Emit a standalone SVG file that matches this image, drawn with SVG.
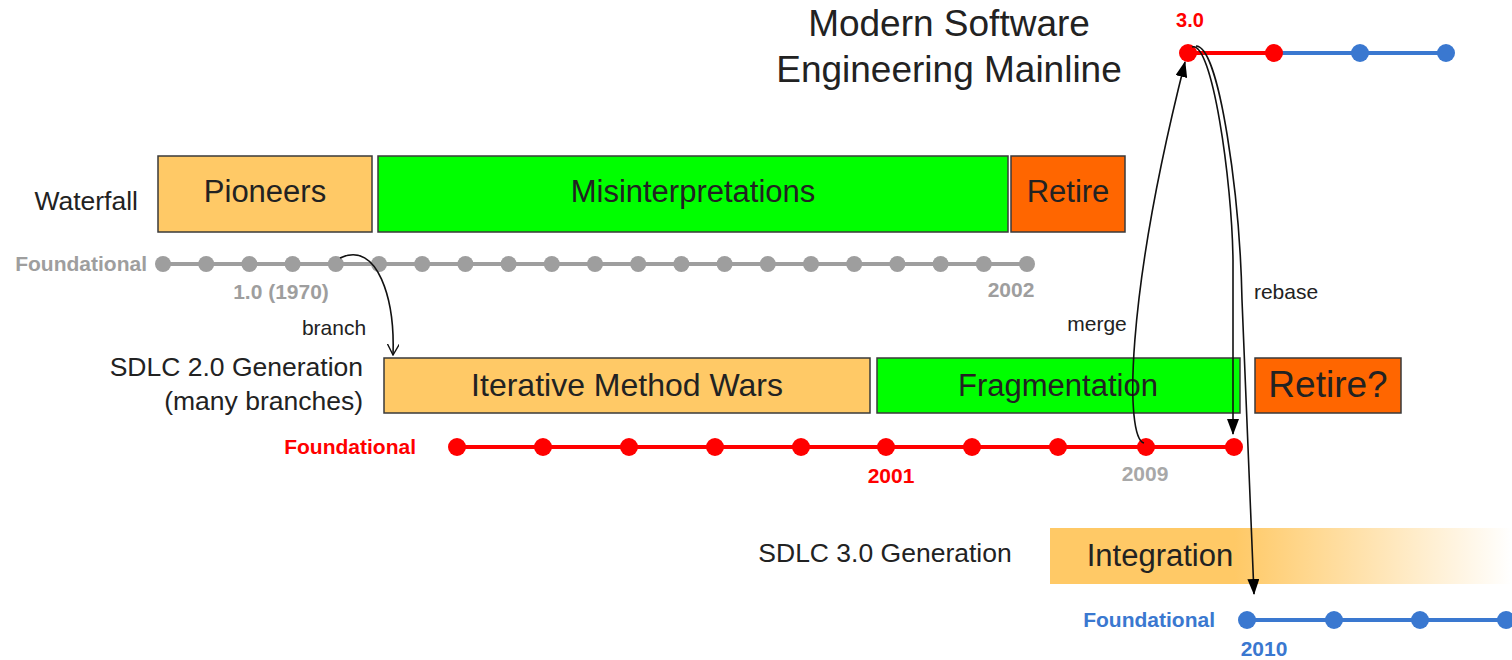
<svg xmlns="http://www.w3.org/2000/svg" width="1512" height="660" viewBox="0 0 1512 660">
<style>
text{font-family:"Liberation Sans",Arial,sans-serif;fill:#222}
.box{stroke:#3a3a3a;stroke-width:1.5}
.peach{fill:#FFC966}
.green{fill:#00FF00}
.orange{fill:#FF6600}
.bt{font-size:31px;text-anchor:middle}
.lbl{font-size:26.5px;text-anchor:end}
.fnd{font-size:21px;font-weight:bold;text-anchor:end}
.yr{font-size:21px;font-weight:bold;text-anchor:middle}
.small{font-size:21px;text-anchor:middle}
.conn{fill:none;stroke:#111;stroke-width:1.6}
</style>
<defs>
<linearGradient id="fade" x1="1050" y1="0" x2="1512" y2="0" gradientUnits="userSpaceOnUse">
<stop offset="0" stop-color="#FFC966"/>
<stop offset="0.4" stop-color="#FFC966"/>
<stop offset="1" stop-color="#FFC966" stop-opacity="0"/>
</linearGradient>
<marker id="fill" viewBox="0 0 16 12" refX="15" refY="6" markerWidth="16" markerHeight="12" markerUnits="userSpaceOnUse" orient="auto">
<path d="M0,0 L16,6 L0,12 Z" fill="#000"/>
</marker>
<marker id="open" viewBox="0 0 12 12" refX="11" refY="6" markerWidth="12" markerHeight="12" markerUnits="userSpaceOnUse" orient="auto">
<path d="M0,0 L11,6 L0,12" fill="none" stroke="#111" stroke-width="1.4"/>
</marker>
</defs>
<rect width="1512" height="660" fill="#fff"/>

<g id="title">
<text x="949" y="36" font-size="37" text-anchor="middle">Modern Software</text>
<text x="949" y="82" font-size="37" text-anchor="middle">Engineering Mainline</text>
</g>

<g id="mainline">
<line x1="1188" y1="53" x2="1274" y2="53" stroke="#FF0000" stroke-width="4"/>
<line x1="1274" y1="53" x2="1446" y2="53" stroke="#3A78D0" stroke-width="4"/>
<circle cx="1188" cy="53" r="9" fill="#FF0000"/>
<circle cx="1274" cy="53" r="9" fill="#FF0000"/>
<circle cx="1360" cy="53" r="9" fill="#3A78D0"/>
<circle cx="1446" cy="53" r="9" fill="#3A78D0"/>
<text x="1190" y="27" font-size="20" font-weight="bold" text-anchor="middle" style="fill:#FF0000">3.0</text>
</g>

<g id="waterfall">
<text x="138" y="210" class="lbl">Waterfall</text>
<rect class="box peach" x="158" y="156" width="214" height="76"/>
<text x="265" y="202" class="bt">Pioneers</text>
<rect class="box green" x="378" y="156" width="630" height="76"/>
<text x="693" y="202" class="bt">Misinterpretations</text>
<rect class="box orange" x="1011" y="156" width="114" height="76"/>
<text x="1068" y="202" class="bt">Retire</text>
</g>

<g id="gray-timeline">
<line x1="163" y1="264" x2="1027" y2="264" stroke="#9E9E9E" stroke-width="4"/>
<g fill="#9E9E9E">
<circle cx="163" cy="264" r="8"/><circle cx="206.2" cy="264" r="8"/><circle cx="249.4" cy="264" r="8"/><circle cx="292.6" cy="264" r="8"/><circle cx="335.8" cy="264" r="8"/><circle cx="379" cy="264" r="8"/><circle cx="422.2" cy="264" r="8"/><circle cx="465.4" cy="264" r="8"/><circle cx="508.6" cy="264" r="8"/><circle cx="551.8" cy="264" r="8"/><circle cx="595" cy="264" r="8"/><circle cx="638.2" cy="264" r="8"/><circle cx="681.4" cy="264" r="8"/><circle cx="724.6" cy="264" r="8"/><circle cx="767.8" cy="264" r="8"/><circle cx="811" cy="264" r="8"/><circle cx="854.2" cy="264" r="8"/><circle cx="897.4" cy="264" r="8"/><circle cx="940.6" cy="264" r="8"/><circle cx="983.8" cy="264" r="8"/><circle cx="1027" cy="264" r="8"/>
</g>
<text x="147" y="271" class="fnd" style="fill:#9E9E9E">Foundational</text>
<text x="281" y="299" class="yr" style="fill:#9E9E9E">1.0 (1970)</text>
<text x="1011" y="297" class="yr" style="fill:#9E9E9E">2002</text>
</g>

<g id="sdlc2">
<text x="363" y="376" class="lbl">SDLC 2.0 Generation</text>
<text x="363" y="410" class="lbl">(many branches)</text>
<rect class="box peach" x="384" y="358" width="486" height="55"/>
<text x="627" y="396" font-size="32" text-anchor="middle">Iterative Method Wars</text>
<rect class="box green" x="877" y="358" width="363" height="55"/>
<text x="1058" y="396" class="bt">Fragmentation</text>
<rect class="box orange" x="1255" y="358" width="146" height="55"/>
<text x="1328" y="397" font-size="37" text-anchor="middle">Retire?</text>
</g>

<g id="red-timeline">
<line x1="457" y1="447" x2="1234" y2="447" stroke="#FF0000" stroke-width="4"/>
<g fill="#FF0000">
<circle cx="457" cy="447" r="9"/><circle cx="543" cy="447" r="9"/><circle cx="629" cy="447" r="9"/><circle cx="715" cy="447" r="9"/><circle cx="801" cy="447" r="9"/><circle cx="886" cy="447" r="9"/><circle cx="972" cy="447" r="9"/><circle cx="1058" cy="447" r="9"/><circle cx="1146" cy="447" r="9"/><circle cx="1234" cy="447" r="9"/>
</g>
<text x="416" y="454" class="fnd" style="fill:#FF0000">Foundational</text>
<text x="891" y="483" class="yr" style="fill:#FF0000">2001</text>
<text x="1145" y="481" class="yr" style="fill:#A8A8A8">2009</text>
</g>

<g id="sdlc3">
<text x="885" y="562" font-size="26.5" text-anchor="middle">SDLC 3.0 Generation</text>
<rect x="1050" y="528" width="462" height="56" fill="url(#fade)"/>
<text x="1160" y="566" font-size="31" text-anchor="middle">Integration</text>
</g>

<g id="blue-timeline">
<line x1="1247" y1="620" x2="1512" y2="620" stroke="#3A78D0" stroke-width="4"/>
<g fill="#3A78D0">
<circle cx="1247" cy="620" r="9"/><circle cx="1334" cy="620" r="9"/><circle cx="1420" cy="620" r="9"/><circle cx="1506" cy="620" r="9"/>
</g>
<text x="1215" y="627" class="fnd" style="fill:#3A78D0">Foundational</text>
<text x="1264" y="656" class="yr" style="fill:#3A78D0">2010</text>
</g>

<g id="connectors">
<path class="conn" d="M340 258 C378 240, 395 300, 393 355" marker-end="url(#open)"/>
<text x="334" y="335" class="small">branch</text>
<path class="conn" d="M1144 443 C1125 438, 1125 300, 1185 62" marker-end="url(#fill)"/>
<text x="1097" y="331" class="small">merge</text>
<path class="conn" d="M1192 47 C1212 40, 1232 180, 1233 260 L1233 434" marker-end="url(#fill)"/>
<path class="conn" d="M1196 46 C1220 46, 1240 200, 1242 300 L1254 594" marker-end="url(#fill)"/>
<text x="1286" y="299" class="small">rebase</text>
</g>
</svg>
